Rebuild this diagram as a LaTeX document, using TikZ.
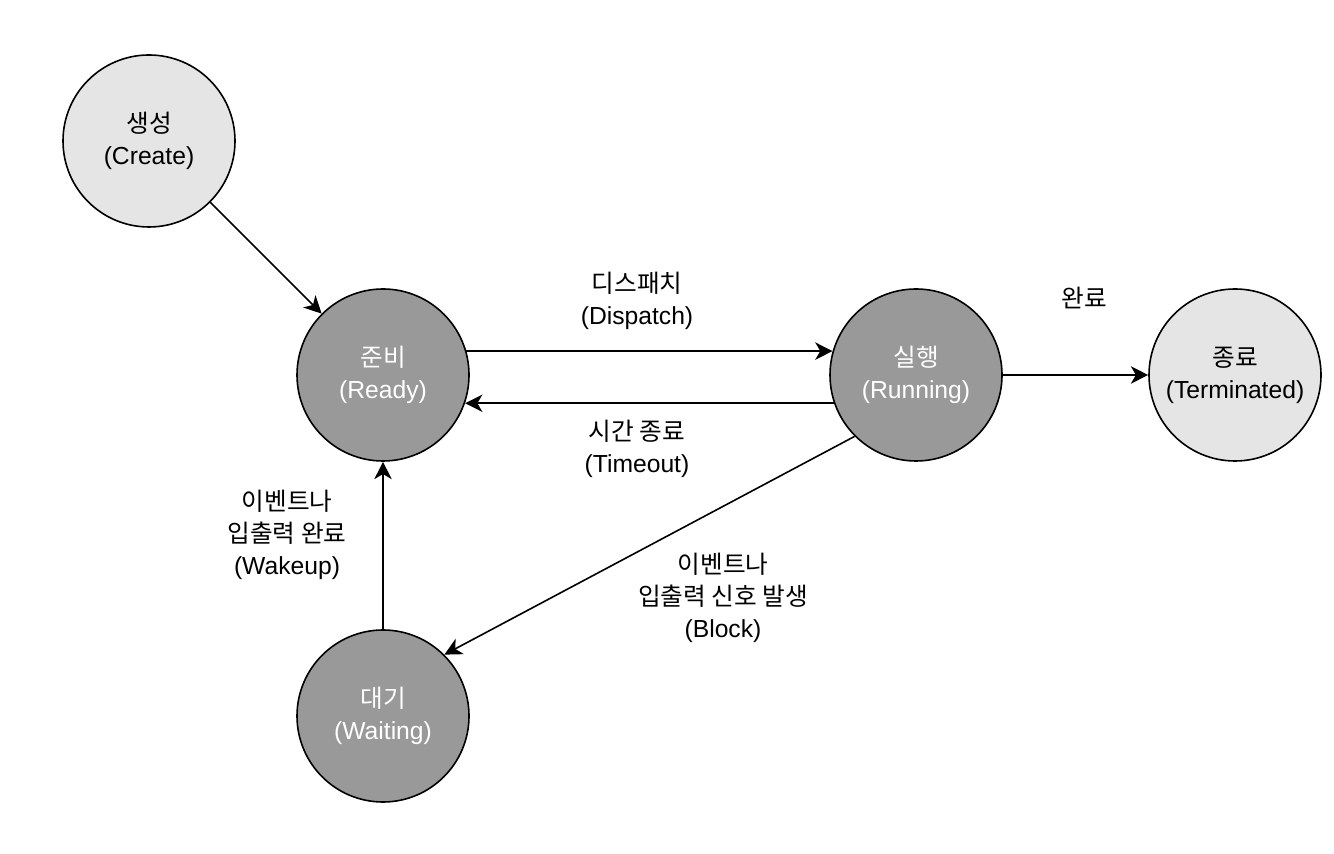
\documentclass[tikz,border=0pt]{standalone}
\usepackage{fontspec}
\setmainfont{Liberation Sans}
\newfontfamily\kr{Noto Sans CJK KR}
\usetikzlibrary{arrows.meta}
\begin{document}
\begin{tikzpicture}[x=0.75pt, y=0.75pt,
		every node/.style={font=\fontsize{18.5}{24}\selectfont, align=center},
		state/.style={draw, circle, line width=1.2pt, minimum size=129pt, inner sep=0pt},
		lightstate/.style={state, fill=black!10},
		darkstate/.style={state, fill=black!40, text=white},
		flow/.style={-{Stealth[length=13pt, width=13pt, inset=3.8pt]}, line width=1.2pt}]
	\useasboundingbox (0,0) rectangle (1334,853);

	% States
	\node[lightstate] (create) at (149,712) {{\kr 생성}\\(Create)};
	\node[darkstate] (ready) at (383,478) {{\kr 준비}\\(Ready)};
	\node[darkstate] (run) at (916,478) {{\kr 실행}\\(Running)};
	\node[lightstate] (term) at (1235,478) {{\kr 종료}\\(Terminated)};
	\node[darkstate] (wait) at (383,137) {{\kr 대기}\\(Waiting)};

	% Transitions
	\draw[flow] (create.-45) -- (ready.135);
	\draw[flow] (ready.16) -- (run.164);
	\draw[flow] (run.-161) -- (ready.-19);
	\draw[flow] (run.east) -- (term.west);
	\draw[flow] (run.225) -- (wait.45);
	\draw[flow] (wait.north) -- (ready.south);

	% Labels
	\node (dispatchlbl) at (637,552) {{\kr 디스패치}\\(Dispatch)};
	\node (timeoutlbl) at (637,404) {{\kr 시간 종료}\\(Timeout)};
	\node (donelbl) at (1084,555) {\kr 완료};
	\node (blocklbl) at (723,255) {{\kr 이벤트나}\\{\kr 입출력 신호 발생}\\(Block)};
	\node (wakeuplbl) at (287,318) {{\kr 이벤트나}\\{\kr 입출력 완료}\\(Wakeup)};
\end{tikzpicture}
\end{document}
